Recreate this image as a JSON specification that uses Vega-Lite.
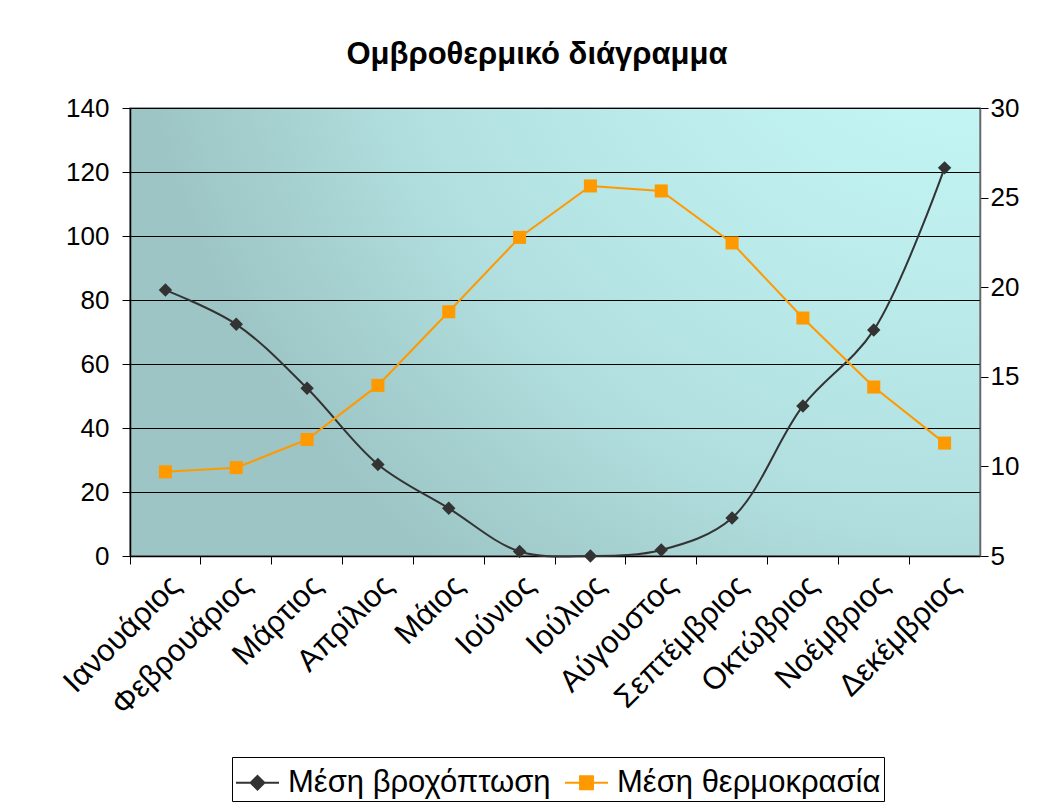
{
  "$schema": "https://vega.github.io/schema/vega-lite/v6.json",
  "autosize": "none",
  "width": 850,
  "height": 448,
  "padding": {"left": 130, "top": 108, "right": 72, "bottom": 253},
  "background": "white",
  "title": {
    "text": "Ομβροθερμικό διάγραμμα",
    "font": "Liberation Sans",
    "fontSize": 31,
    "fontWeight": "bold",
    "color": "black",
    "anchor": "middle",
    "baseline": "alphabetic",
    "offset": 0,
    "dx": -18
  },
  "config": {
    "font": "Liberation Sans",
    "view": {
      "stroke": "#808080",
      "strokeWidth": 1.5,
      "fill": {
        "gradient": "radial",
        "x1": 1, "y1": 0, "r1": 0,
        "x2": 1, "y2": 0, "r2": 1.0,
        "stops": [
          {"offset": 0, "color": "#ccffff"},
          {"offset": 0.7, "color": "#b2e0e0"},
          {"offset": 1, "color": "#9dc5c5"}
        ]
      }
    },
    "axis": {
      "labelFont": "Liberation Sans",
      "labelColor": "black",
      "tickColor": "black",
      "domainColor": "black",
      "tickSize": 8,
      "domainWidth": 1.5,
      "tickWidth": 1
    }
  },
  "data": {
    "values": [
      {"month": "Ιανουάριος", "series": "Μέση βροχόπτωση", "value": 83.1},
      {"month": "Φεβρουάριος", "series": "Μέση βροχόπτωση", "value": 72.4},
      {"month": "Μάρτιος", "series": "Μέση βροχόπτωση", "value": 52.4},
      {"month": "Απρίλιος", "series": "Μέση βροχόπτωση", "value": 28.6},
      {"month": "Μάιος", "series": "Μέση βροχόπτωση", "value": 14.9},
      {"month": "Ιούνιος", "series": "Μέση βροχόπτωση", "value": 1.4},
      {"month": "Ιούλιος", "series": "Μέση βροχόπτωση", "value": 0},
      {"month": "Αύγουστος", "series": "Μέση βροχόπτωση", "value": 1.9},
      {"month": "Σεπτέμβριος", "series": "Μέση βροχόπτωση", "value": 11.9},
      {"month": "Οκτώβριος", "series": "Μέση βροχόπτωση", "value": 46.9},
      {"month": "Νοέμβριος", "series": "Μέση βροχόπτωση", "value": 70.6},
      {"month": "Δεκέμβριος", "series": "Μέση βροχόπτωση", "value": 121.3},
      {"month": "Ιανουάριος", "series": "Μέση θερμοκρασία", "value": 9.7},
      {"month": "Φεβρουάριος", "series": "Μέση θερμοκρασία", "value": 9.93},
      {"month": "Μάρτιος", "series": "Μέση θερμοκρασία", "value": 11.5},
      {"month": "Απρίλιος", "series": "Μέση θερμοκρασία", "value": 14.52},
      {"month": "Μάιος", "series": "Μέση θερμοκρασία", "value": 18.63},
      {"month": "Ιούνιος", "series": "Μέση θερμοκρασία", "value": 22.78},
      {"month": "Ιούλιος", "series": "Μέση θερμοκρασία", "value": 25.65},
      {"month": "Αύγουστος", "series": "Μέση θερμοκρασία", "value": 25.37},
      {"month": "Σεπτέμβριος", "series": "Μέση θερμοκρασία", "value": 22.47},
      {"month": "Οκτώβριος", "series": "Μέση θερμοκρασία", "value": 18.28},
      {"month": "Νοέμβριος", "series": "Μέση θερμοκρασία", "value": 14.43},
      {"month": "Δεκέμβριος", "series": "Μέση θερμοκρασία", "value": 11.3}
    ]
  },
  "encoding": {
    "x": {
      "field": "month",
      "type": "nominal",
      "sort": null,
      "scale": {"type": "band", "paddingInner": 0, "paddingOuter": 0},
      "axis": {
        "title": null,
        "labelAngle": -45,
        "labelFontSize": 31,
        "labelPadding": 6,
        "labelLimit": 300,
        "bandPosition": 0,
        "grid": false,
        "labelOverlap": false
      }
    }
  },
  "layer": [
    {
      "transform": [{"filter": "datum.series === 'Μέση βροχόπτωση'"}],
      "encoding": {
        "y": {
          "field": "value",
          "type": "quantitative",
          "scale": {"domain": [0, 140], "nice": false, "zero": false},
          "axis": {
            "title": null,
            "orient": "left",
            "values": [0, 20, 40, 60, 80, 100, 120, 140],
            "labelFontSize": 26,
            "labelPadding": 13,
            "grid": true,
            "gridColor": "black",
            "gridWidth": 1.2,
            "gridOpacity": 1
          }
        }
      },
      "layer": [
        {
          "mark": {"type": "line", "interpolate": "catmull-rom", "strokeWidth": 2},
          "encoding": {
            "color": {
              "field": "series",
              "type": "nominal",
              "scale": {"domain": ["Μέση βροχόπτωση", "Μέση θερμοκρασία"], "range": ["#333333", "#ff9900"]},
              "legend": {
                "title": null,
                "orient": "none",
                "legendX": 102,
                "legendY": 649,
                "direction": "horizontal",
                "strokeColor": "black",
                "fillColor": "white",
                "padding": 3,
                "labelFontSize": 31,
                "labelFont": "Liberation Sans",
                "labelColor": "black",
                "labelLimit": 400,
                "labelOffset": 8,
                "columnPadding": 10,
                "symbolSize": 1849,
                "symbolStrokeWidth": 2,
                "encode": {
                  "symbols": {
                    "update": {
                      "shape": {"signal": "datum.value === 'Μέση βροχόπτωση' ? 'M-1,0H1M0,-0.32L0.32,0L0,0.32L-0.32,0Z' : 'M-1,0H1M-0.3,-0.3H0.3V0.3H-0.3Z'"},
                      "fill": {"signal": "datum.value === 'Μέση βροχόπτωση' ? '#333333' : '#ff9900'"},
                      "stroke": {"signal": "datum.value === 'Μέση βροχόπτωση' ? '#333333' : '#ff9900'"},
                      "strokeWidth": {"value": 2},
                      "opacity": {"value": 1}
                    }
                  }
                }
              }
            }
          }
        },
        {
          "mark": {"type": "point", "shape": "diamond", "filled": true, "size": 180, "color": "#333333", "opacity": 1}
        }
      ]
    },
    {
      "transform": [{"filter": "datum.series === 'Μέση θερμοκρασία'"}],
      "encoding": {
        "y": {
          "field": "value",
          "type": "quantitative",
          "scale": {"domain": [5, 30], "nice": false, "zero": false},
          "axis": {
            "title": null,
            "orient": "right",
            "values": [5, 10, 15, 20, 25, 30],
            "labelFontSize": 26,
            "labelPadding": 2,
            "grid": false,
            "domainColor": "#666666"
          }
        }
      },
      "layer": [
        {
          "mark": {"type": "line", "strokeWidth": 2},
          "encoding": {
            "color": {"field": "series", "type": "nominal"}
          }
        },
        {
          "mark": {"type": "point", "shape": "square", "filled": true, "size": 170, "color": "#ff9900", "opacity": 1}
        }
      ]
    }
  ],
  "resolve": {"scale": {"y": "independent"}}
}
